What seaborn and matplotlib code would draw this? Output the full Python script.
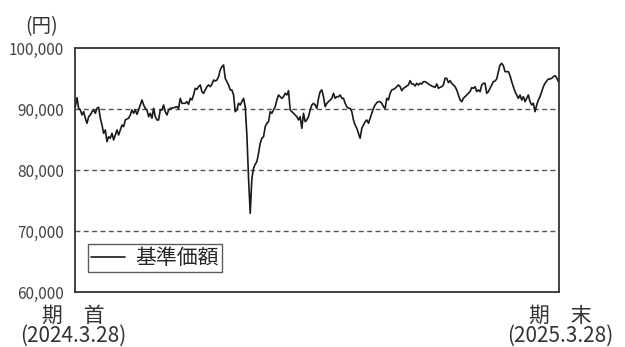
import numpy as np
import pandas as pd
import matplotlib
matplotlib.use("Agg")
import matplotlib.pyplot as plt
import seaborn as sns

# 基準価額（円）: 期首 2024.3.28 → 期末 2025.3.28
nav_part1 = [
    90380, 91850, 90110, 89840, 89020, 89560, 88480, 87660, 88740, 89020,
    89560, 89840, 89300, 90110, 90280, 88480, 87380, 86020, 86560, 84640,
    85460, 85200, 86020, 84920, 85740, 86560, 85740, 86560, 87380, 87100,
    88200, 88360, 88480, 89020, 89840, 89300, 89840, 89130, 89840, 90660,
    91480, 90660, 90110, 89840, 88740, 89300, 88480, 90110, 88740, 88200,
    88200, 89840, 89840, 90660, 89560, 89020, 89840, 90110, 90110,
]
nav_part2 = [
    90220, 90280, 90380, 90110, 91750, 90930, 90930, 90930, 91200, 90770,
    91750, 91480, 92300, 93390, 93230, 93660, 93940, 92840, 92570, 93120,
    93660, 93940, 93660, 94050, 94750, 94590, 94750, 95300, 96390, 96940,
    97210, 95030, 94480, 93940, 93120,
]
nav_part3 = [
    93120, 92300, 89560, 89840, 90930, 90660, 91200, 91750, 90380, 85740,
    78640, 72900, 78640, 80280, 80940, 81370, 82740, 84380, 85200, 85460,
    87100, 87660, 87920,
]
nav_part4 = [
    89560, 89300, 89840, 90380, 91480, 92300, 92020, 91750, 92020, 92570,
    92300, 93000, 89840, 89560, 89300, 89020, 88740, 88200, 88740, 86830,
    89300, 87920, 88200, 88740, 89840, 90660, 90930, 90660, 90110, 91750,
    92840, 93120, 92020, 90380, 90930, 91200, 91480, 91750, 92570, 91750,
    92020, 92020, 92300, 91750, 91750, 90930, 90380, 90110, 90110, 89560,
    88200, 87380, 86830, 86020, 85200, 86830, 87380, 87920, 88200, 87660,
]
nav_part5 = [
    88480, 89300, 90110, 90660, 91040, 91200, 91200, 90930, 90380, 90110,
    91750, 91480, 92570, 93120, 93230, 93390, 93660, 93940, 93660, 93000,
    93390, 93550, 93770, 93940, 94640, 94100, 94100, 93770, 94210, 93940,
    94210, 94100, 94480, 94480, 94320, 94100, 93940, 93770, 93660, 93550,
    94100, 93390, 93550, 93660, 93940, 95030, 95030, 94320, 94640, 94210,
    93940, 93660, 93120, 92300, 91480, 91200, 91750,
]
nav_part6 = [
    92020, 92300, 92570, 92840, 93500, 93390, 93660, 92840, 93120, 92840,
    93940, 94210, 94210, 92570, 92840, 93390, 93940, 94480, 94590, 94920,
    96120, 97210, 97490, 97100, 96120, 96120, 96120, 95460, 94480, 93660,
    92840, 92300, 91750, 92300, 91480, 92020, 91200, 91750, 92300, 91200,
    90660, 90930, 89560, 90660, 91480, 92020, 92840, 93660, 94210, 94590,
    94920, 94920, 95030, 95300, 95460, 95140, 94480,
]
nav = nav_part1 + nav_part2 + nav_part3 + nav_part4 + nav_part5 + nav_part6

y_ticks = [60000, 70000, 80000, 90000, 100000]
y_tick_labels = ["60,000", "70,000", "80,000", "90,000", "100,000"]
start_label = "期　首\n(2024.3.28)"
end_label = "期　末\n(2025.3.28)"
series_name = "基準価額"

df = pd.DataFrame({"idx": np.arange(len(nav)), "nav": nav})

sns.set_style("white")
plt.rcParams["font.family"] = ["Noto Sans CJK JP", "DejaVu Sans"]

fig = plt.figure(figsize=(6.25, 3.47), dpi=100)
ax = fig.add_axes([0.12, 0.1585, 0.7744, 0.7032])

sns.lineplot(data=df, x="idx", y="nav", ax=ax, color="#1a1a1a",
             linewidth=1.2, label=series_name)

for v in y_ticks[1:-1]:
    ax.axhline(v, color="#555555", linestyle=(0, (3.5, 2.5)), linewidth=1.0, zorder=0)

ax.set_ylim(60000, 100000)
ax.set_xlim(-0.2, len(nav) - 0.6)
ax.set_yticks(y_ticks)
ax.set_yticklabels(y_tick_labels, fontsize=11, color="#444444")
ax.set_xticks([])
ax.tick_params(axis="y", direction="in", length=4, width=1, color="#333333", pad=8)
ax.set_xlabel("")
ax.set_ylabel("")

for s in ax.spines.values():
    s.set_visible(True)
    s.set_color("#333333")
    s.set_linewidth(1.3)

leg = ax.legend(loc="lower left", bbox_to_anchor=(0.027, 0.08), fontsize=15,
                frameon=True, fancybox=False, handlelength=1.6,
                handletextpad=0.5, borderpad=0.15, borderaxespad=0)
leg.get_frame().set_edgecolor("#333333")
leg.get_frame().set_linewidth(1.0)

fig.text(0.066, 0.893, "(円)", fontsize=14, ha="center", va="bottom", color="#333333")

fig.text(0.118, 0.061, start_label, fontsize=15, ha="center", va="center",
         multialignment="center", linespacing=0.85, color="#333333")
fig.text(0.896, 0.061, end_label, fontsize=15, ha="center", va="center",
         multialignment="center", linespacing=0.85, color="#333333")

fig.savefig("out.png", dpi=100)
